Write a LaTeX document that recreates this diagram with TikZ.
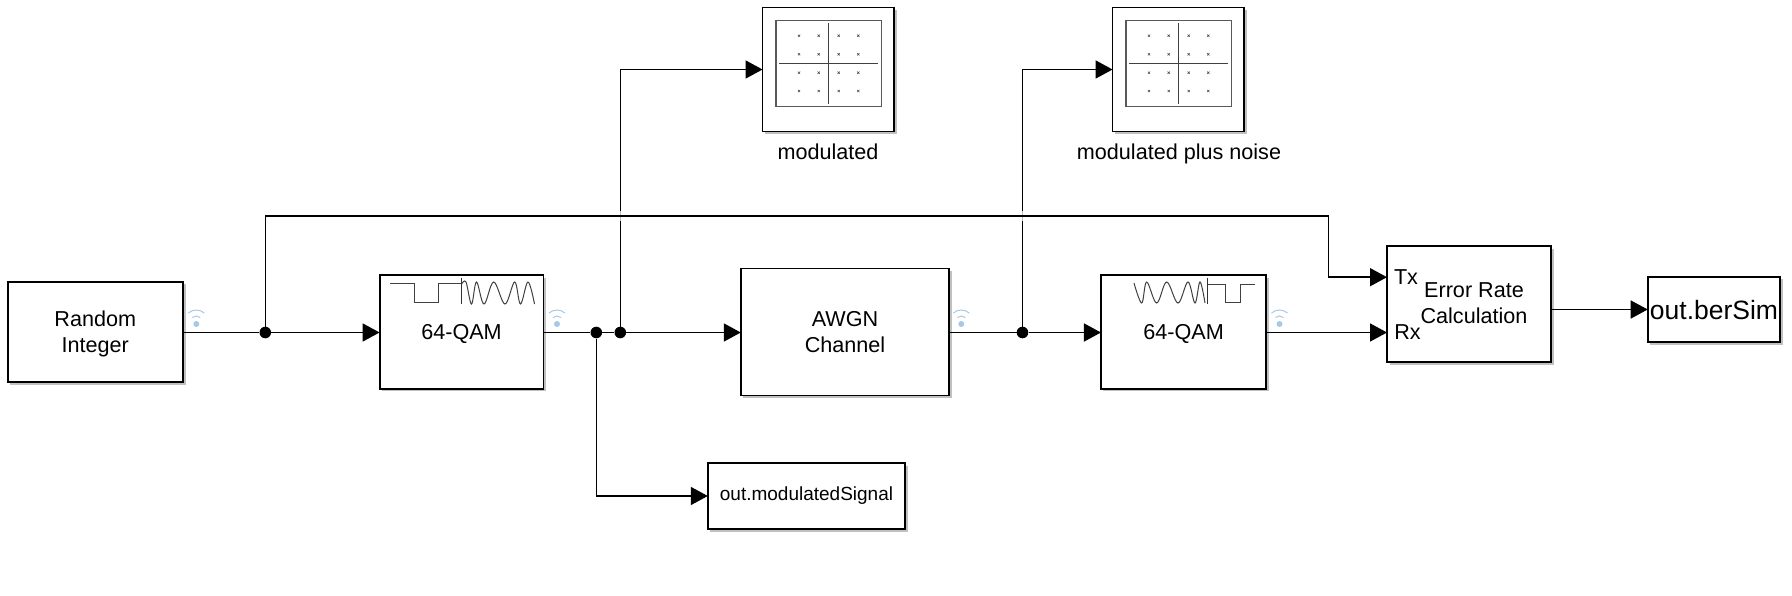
\documentclass[tikz,border=0pt]{standalone}
\usepackage{fontspec}
\setmainfont{Liberation Sans}
\usetikzlibrary{calc,arrows.meta,shadows}
\tikzset{>={Triangle[length=17pt,width=18pt]}}
\definecolor{iconblue}{RGB}{168,200,232}
\tikzset{block/.style={draw,line width=1.8pt,fill=white,inner sep=0pt,outer sep=0pt,align=center,text depth=0pt,
    font=\fontsize{21.6}{26}\selectfont,
    drop shadow={shadow xshift=2.5pt,shadow yshift=-2.5pt,fill=black!45,opacity=.55}}}
\tikzset{conn/.style={line width=1.6pt}}
\tikzset{jdot/.style={circle,fill=black,inner sep=0pt,minimum size=11.6pt}}
\tikzset{wave/.style={line width=1pt,black!75}}
\tikzset{txt/.style={inner sep=0pt,text depth=0pt,font=\fontsize{21.6}{26}\selectfont}}
\begin{document}
\begin{tikzpicture}[x=1pt,y=-1pt]
\useasboundingbox (0,0) rectangle (1792,596);
% blocks
\node[block,minimum width=175.4pt,minimum height=100.7pt] (rnd) at (95.3,332) {Random\\Integer};
\node[block,minimum width=163.8pt,minimum height=113.6pt] (qamA) at (461.5,332) {64-QAM};
\node[block,minimum width=208.4pt,minimum height=127pt] (awgn) at (845,332) {AWGN\\Channel};
\node[block,minimum width=165.3pt,minimum height=113.6pt] (qamB) at (1183.6,332) {64-QAM};
\node[block,minimum width=164pt,minimum height=116.3pt] (errcalc) at (1469,304.2) {};
\node[block,minimum width=132.6pt,minimum height=65.6pt,font=\fontsize{26.5}{30}\selectfont] (berout) at (1714,309.5) {out.berSim};
\node[block,minimum width=197.4pt,minimum height=66pt,text depth=4pt,font=\fontsize{19}{24}\selectfont] (sigout) at (806.5,496) {out.modulatedSignal};
\node[block,minimum width=131.7pt,minimum height=124pt] (scopeA) at (828.4,69.5) {};
\node[block,minimum width=131.7pt,minimum height=124pt] (scopeB) at (1178.4,69.5) {};
% texts
\node[txt] (lblA) at (828,152) {modulated};
\node[txt] (lblB) at (1179,152) {modulated plus noise};
\node[txt] (tx) at (1406,277) {Tx};
\node[txt] (rx) at (1407.5,332.5) {Rx};
\node[txt,align=center] (errtxt) at (1474,303.5) {Error Rate\\Calculation};
% junctions
\node[jdot] (jA) at (265.3,332.5) {};
\node[jdot] (jB) at (596.3,332.5) {};
\node[jdot] (jC) at (620.3,332.5) {};
\node[jdot] (jD) at (1022.5,332.5) {};
\coordinate (busR) at (1328.3,216.3);
\coordinate (txin) at ($(errcalc.west)+(0,-27)$);
\coordinate (rxin) at ($(errcalc.west)+(0,28.3)$);
% connectors
\draw[conn] (rnd.east |- jA) -- (jA);
\draw[conn,->] (jA) -- (qamA.west |- jA);
\draw[conn] (qamA.east |- jA) -- (jB);
\draw[conn] (jB) -- (jC);
\draw[conn,->] (jC) -- (awgn.west |- jC);
\draw[conn] (awgn.east |- jD) -- (jD);
\draw[conn,->] (jD) -- (qamB.west |- jD);
\draw[conn,->] (qamB.east |- rxin) -- (rxin);
\draw[conn,->] (jB) |- (sigout.west);
\draw[conn,->] (jC) |- (scopeA.west);
\draw[conn,->] (jD) |- (scopeB.west);
\foreach \j in {jC,jD} \draw[white,opacity=.75,line width=2.5pt] (\j |- 0,211) -- (\j |- 0,221);
\draw[conn,->] (jA) |- (busR) |- (txin);
\draw[conn,->] (errcalc.east |- berout.west) -- (berout.west);
% scope screens
\foreach \sx in {776,1126} {
  \draw[line width=1.2pt,black!65] (\sx,20.3) rectangle ++(105.3,86.4);
  \draw[line width=1pt,black!75] (\sx+52.7,23) -- ++(0,81);
  \draw[line width=1pt,black!75] (\sx+3,63.3) -- ++(99,0);
  \foreach \dx in {23,42.7,62.7,82.3}
    \foreach \dy in {35.7,54.3,72.7,91}
      \draw[line width=.6pt,black!70] (\sx+\dx-1.1,\dy-1.1) -- ++(2.2,2.2) ++(-2.2,0) -- ++(2.2,-2.2);
}
% modulation icons
\draw[wave] (390,284) -- (414,284) -- (414,302) -- (438,302) -- (438,284) -- (461.7,284);
\draw[line width=1.5pt,black!80] (461.7,278) -- (461.7,304);
\draw[wave] plot[smooth,tension=.6] coordinates {(461.7,284) (466,282) (471.5,304) (476.5,282) (484,304) (493.7,282) (505,304) (514.7,282) (520.5,304) (528,282) (534.5,304)};
\draw[wave] (1207.3,284.3) -- (1225,284.3) -- (1225,302.3) -- (1240,302.3) -- (1240,284.3) -- (1255,284.3);
\draw[line width=1.5pt,black!80] (1207.3,278) -- (1207.3,304);
\draw[wave] plot[smooth,tension=.6] coordinates {(1134,283) (1141.7,303) (1146.7,282) (1156.7,303) (1166.7,282) (1178,303) (1188,282) (1195,303) (1200,282) (1205,303)};
% signal icons
\foreach \x in {196.3,557,961.3,1279.5} {
  \fill[iconblue] (\x,324) circle[radius=3pt];
  \draw[line width=1pt,iconblue] (\x,322) ++(48:6pt) arc[start angle=48,end angle=132,radius=6pt];
  \draw[line width=1pt,iconblue] (\x,322) ++(48:12pt) arc[start angle=48,end angle=132,radius=12pt];
}
\end{tikzpicture}
\end{document}
